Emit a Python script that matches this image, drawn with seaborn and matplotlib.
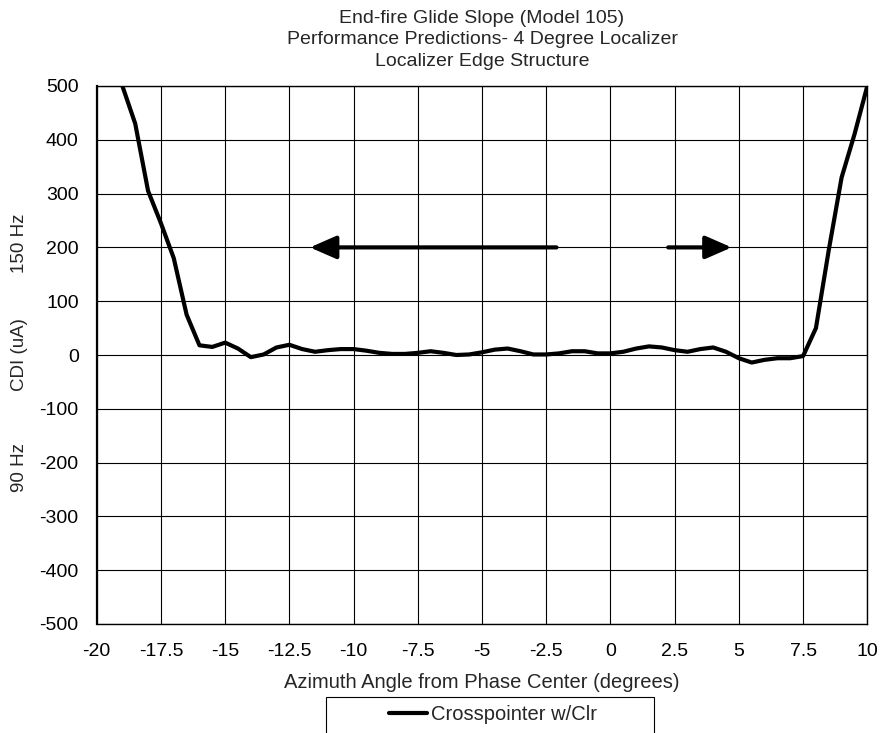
import matplotlib
matplotlib.use("Agg")
import matplotlib.pyplot as plt
import matplotlib.transforms as mtransforms
from matplotlib.patches import Rectangle
import numpy as np
import pandas as pd
import seaborn as sns

# Azimuth angle (degrees) and CDI (uA) for the crosspointer with clearance
azimuth = [-19.0, -18.5, -18.0, -17.5, -17.0, -16.5, -16.0, -15.5, -15.0, -14.5,
           -14.0, -13.5, -13.0, -12.5, -12.0, -11.5, -11.0, -10.5, -10.0, -9.5,
           -9.0, -8.5, -8.0, -7.5, -7.0, -6.5, -6.0, -5.5, -5.0, -4.5,
           -4.0, -3.5, -3.0, -2.5, -2.0, -1.5, -1.0, -0.5, 0.0, 0.5,
           1.0, 1.5, 2.0, 2.5, 3.0, 3.5, 4.0, 4.5, 5.0, 5.5,
           6.0, 6.5, 7.0, 7.5, 8.0, 8.5, 9.0, 9.5, 10.0]
cdi = [500, 430, 305, 245, 180, 75, 18, 15, 23, 12,
       -4, 1, 14, 19, 11, 6, 9, 11, 11, 8,
       4, 2, 2, 4, 7, 4, 0, 1, 5, 10,
       12, 7, 1, 1, 3, 7, 7, 3, 3, 6,
       12, 16, 14, 9, 6, 11, 14, 6, -6, -14,
       -9, -6, -6, -2, 50, 195, 330, 410, 500]

series_name = "Crosspointer w/Clr"
x_ticks = [-20, -17.5, -15, -12.5, -10, -7.5, -5, -2.5, 0, 2.5, 5, 7.5, 10]
x_tick_labels = ["-20", "-17.5", "-15", "-12.5", "-10", "-7.5", "-5", "-2.5",
                 "0", "2.5", "5", "7.5", "10"]
y_ticks = [-500, -400, -300, -200, -100, 0, 100, 200, 300, 400, 500]
title_lines = ["End-fire Glide Slope (Model 105)",
               "Performance Predictions- 4 Degree Localizer",
               "Localizer Edge Structure"]

sns.set_style("white")
plt.rcParams["font.family"] = ["Liberation Sans", "DejaVu Sans"]
plt.rcParams["axes.unicode_minus"] = False

W, H = 881, 733
fig = plt.figure(figsize=(W / 100, H / 100), dpi=100)
ax = fig.add_axes([96.7 / W, 1 - 624 / H, (867.3 - 96.7) / W, (624 - 86) / H])

df = pd.DataFrame({"Azimuth": azimuth, "CDI": cdi, "Series": series_name})
sns.lineplot(data=df, x="Azimuth", y="CDI", color="black", linewidth=3,
             ax=ax, legend=False, clip_on=True, zorder=3)

ax.set_xlim(-20, 10)
ax.set_ylim(-500, 500)
ax.set_xticks(x_ticks)
ax.set_xticklabels(x_tick_labels)
ax.set_yticks(y_ticks)
ax.tick_params(axis="both", labelsize=14, colors="black", direction="out",
               length=5, width=1)
ax.tick_params(axis="x", pad=9)
ax.tick_params(axis="y", pad=8)
ax.grid(True, color="black", linewidth=0.8)
for name, sp in ax.spines.items():
    sp.set_visible(True)
    sp.set_color("black")
    sp.set_linewidth(1.0)
ax.spines["left"].set_linewidth(1.6)

ax.set_xlabel("Azimuth Angle from Phase Center (degrees)", fontsize=14.5, labelpad=9)
ax.set_ylabel("")

fig.text(482 / W, 1 - 40 / H, "\n".join(title_lines), ha="center", va="center",
         fontsize=14, linespacing=1.38)

# Three-part y-axis label in the left margin
trans = mtransforms.blended_transform_factory(fig.transFigure, ax.transData)
for yv, txt in [(208, "150 Hz"), (0, "CDI (uA)"), (-210, "90 Hz")]:
    fig.text(19 / W, yv, txt, rotation=90, ha="center", va="center",
             fontsize=13.5, transform=trans)

# Direction arrows
arrow_kw = dict(arrowstyle="-|>,head_length=0.8,head_width=0.35", color="black",
                lw=3, mutation_scale=20, shrinkA=0, shrinkB=0)
ax.annotate("", xy=(-11.7, 200), xytext=(-2.1, 200), arrowprops=arrow_kw, zorder=4)
ax.annotate("", xy=(4.72, 200), xytext=(2.25, 200), arrowprops=arrow_kw, zorder=4)

# Legend box below the axis title
fig.patches.append(Rectangle((326 / W, -10 / H), (654 - 326) / W, (36 + 10) / H,
                             transform=fig.transFigure, facecolor="white",
                             edgecolor="black", linewidth=0.8))
handle = plt.Line2D([], [], color="black", linewidth=3)
fig.legend([handle], [series_name], loc="center", frameon=False,
           bbox_to_anchor=(493 / W, 1 - 715 / H), fontsize=14.5,
           handlelength=1.85, handletextpad=0.2, borderpad=0)

fig.savefig("out.png", dpi=100)
